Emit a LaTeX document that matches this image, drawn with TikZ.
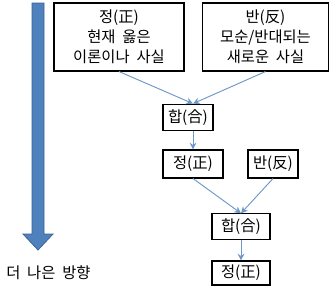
\documentclass[tikz,border=0pt]{standalone}
\usepackage{fontspec}
\setmainfont{Noto Sans CJK KR}[WordSpace=2]
\usetikzlibrary{arrows.meta}
\definecolor{bigblue}{HTML}{4F81BD}
\definecolor{bigedge}{HTML}{3A6496}
\definecolor{arrblue}{HTML}{6E98C8}
\tikzset{
  box/.style={draw=black, line width=0.8pt, rectangle, align=center, inner sep=0pt,
    font=\fontsize{11.5}{15}\selectfont},
  arr/.style={draw=arrblue, line width=0.7pt, -{Stealth[length=5pt,width=5pt]}}
}
\begin{document}
\begin{tikzpicture}[x=0.75pt,y=-0.75pt]
\useasboundingbox[fill=white] (0,0) rectangle (332,289);
% big arrow
\filldraw[fill=bigblue, draw=bigedge, line width=0.6pt]
  (32,3) -- (44,3) -- (44,234) -- (53,234) -- (38,250) -- (23,234) -- (32,234) -- cycle;
\node[anchor=west, font=\fontsize{11.5}{14}\selectfont, inner sep=0pt] (dir) at (6,273) {더 나은 방향};
% boxes
\node[box, minimum width=97.5pt, minimum height=51pt] (thesis) at (119,37) {정(正)\\현재 옳은\\이론이나 사실};
\node[box, minimum width=95pt, minimum height=51pt] (anti) at (265.5,37) {반(反)\\모순/반대되는\\새로운 사실};
\node[box, minimum width=37.5pt, minimum height=20pt] (hap1) at (188,117.5) {합(合)};
\node[box, minimum width=45pt, minimum height=21pt] (jeong1) at (193,164) {정(正)};
\node[box, minimum width=37.5pt, minimum height=21pt] (ban1) at (273,164) {반(反)};
\node[box, minimum width=43.5pt, minimum height=19pt] (hap2) at (241,226.5) {합(合)};
\node[box, minimum width=43.5pt, minimum height=18pt] (jeong2) at (241,273) {정(正)};
% connectors
\draw[arr] (thesis.south) -- (hap1.north -| jeong1.north);
\draw[arr] (anti.south) -- (hap1.north -| jeong1.north);
\draw[arr] (hap1.south -| jeong1.north) -- (jeong1.north);
\draw[arr] (jeong1.south) -- (hap2.north);
\draw[arr] (ban1.south) -- (hap2.north);
\draw[arr] (hap2.south) -- (jeong2.north);
\end{tikzpicture}
\end{document}
